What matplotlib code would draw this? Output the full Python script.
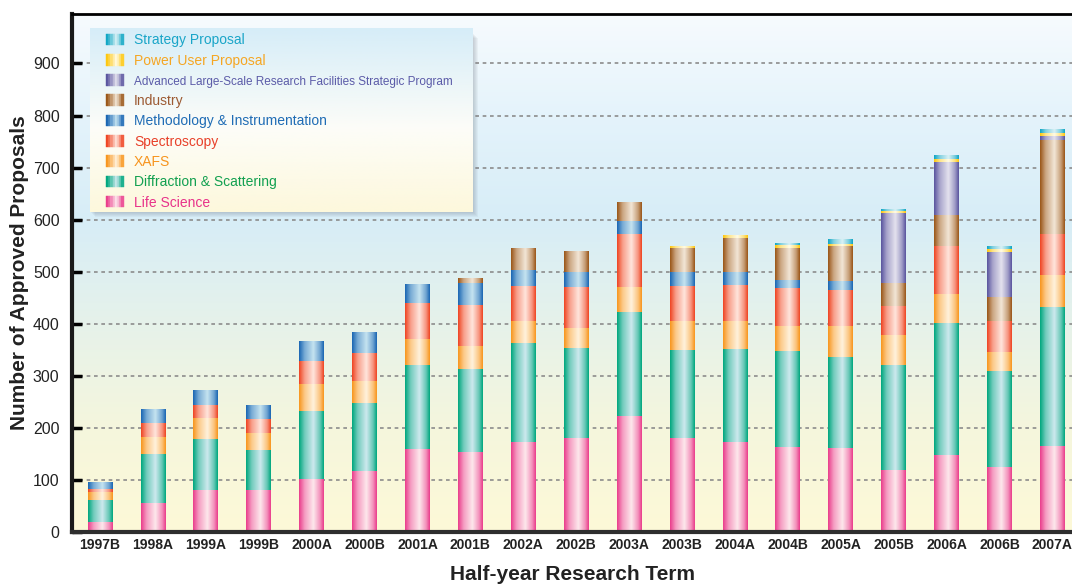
import numpy as np
import matplotlib
matplotlib.use("Agg")
import matplotlib.pyplot as plt
from matplotlib.colors import LinearSegmentedColormap, to_rgb
from matplotlib.patches import Patch, Rectangle
from matplotlib.legend_handler import HandlerTuple

plt.rcParams['font.family'] = ['Liberation Sans', 'DejaVu Sans']

terms = ['1997B', '1998A', '1999A', '1999B', '2000A', '2000B', '2001A', '2001B',
         '2002A', '2002B', '2003A', '2003B', '2004A', '2004B', '2005A', '2005B',
         '2006A', '2006B', '2007A']

life = [20, 55, 80, 80, 101, 117, 160, 153, 172, 180, 222, 180, 172, 164, 162, 120, 147, 125, 166]
diffraction = [41, 94, 98, 77, 131, 130, 160, 161, 192, 173, 200, 169, 179, 184, 175, 201, 255, 184, 267]
xafs = [15, 33, 41, 33, 52, 44, 50, 44, 42, 38, 48, 57, 54, 48, 59, 58, 56, 36, 61]
spectroscopy = [6, 27, 25, 27, 44, 52, 69, 79, 66, 79, 102, 66, 69, 73, 69, 56, 92, 60, 79]
methodology = [12, 25, 28, 25, 37, 39, 35, 42, 32, 29, 25, 28, 25, 15, 17, 0, 0, 0, 0]
industry = [0, 0, 0, 0, 0, 0, 0, 8, 41, 40, 36, 45, 66, 62, 68, 43, 59, 46, 180]
advanced = [0, 0, 0, 0, 0, 0, 0, 0, 0, 0, 0, 0, 0, 0, 0, 135, 102, 86, 8]
power_user = [0, 0, 0, 0, 0, 0, 0, 0, 0, 0, 0, 3, 5, 5, 3, 4, 6, 6, 6]
strategy = [0, 0, 0, 0, 0, 0, 0, 0, 0, 0, 0, 0, 0, 2, 8, 3, 6, 4, 6]

# (label, values, edge colour, light centre colour, text colour) bottom -> top
series = [
    ('Life Science', life, '#ea3d8c', '#fde8ec', '#e8338a'),
    ('Diffraction & Scattering', diffraction, '#00a77e', '#cde9ee', '#12a050'),
    ('XAFS', xafs, '#f8961e', '#fff2dc', '#f7941d'),
    ('Spectroscopy', spectroscopy, '#ef4523', '#ffe5dc', '#e8402a'),
    ('Methodology & Instrumentation', methodology, '#1a66b3', '#c5e3f0', '#1f6cb5'),
    ('Industry', industry, '#9a5618', '#f2e6d6', '#9c5a32'),
    ('Advanced Large-Scale Research Facilities Strategic Program', advanced, '#5a559f', '#e4e2ee', '#5b5ba8'),
    ('Power User Proposal', power_user, '#fdc70f', '#fffbe6', '#f5a623'),
    ('Strategy Proposal', strategy, '#10a6c4', '#d9f1f5', '#1aa5c8'),
]


def mix(c1, c2, t):
    a, b = np.array(to_rgb(c1)), np.array(to_rgb(c2))
    return tuple(a + (b - a) * t)


def bar_cmap(edge, light):
    return LinearSegmentedColormap.from_list(
        'g', [(0, edge), (0.22, mix(edge, light, 0.55)), (0.58, light),
              (0.85, mix(edge, light, 0.5)), (1, edge)])


fig = plt.figure(figsize=(10.72, 5.84), dpi=100)
ax = fig.add_axes([0.0672, 0.089, 0.9328, 0.887])

# background gradient
bg_cmap = LinearSegmentedColormap.from_list(
    'bg', [(0, '#fdf9d7'), (0.2, '#f5f6dd'), (0.4, '#e6f2ea'), (0.6, '#d7edf7'),
           (0.8, '#e4f3fb'), (1, '#f7fbfe')])
ax.imshow(np.linspace(0, 1, 256).reshape(-1, 1), extent=(0, 1, 0, 1), origin='lower',
          transform=ax.transAxes, cmap=bg_cmap, aspect='auto', zorder=0)

x = np.arange(len(terms))
grad = np.linspace(0, 1, 64).reshape(1, -1)
bottom = np.zeros(len(terms))
for label, vals, edge, light, tc in series:
    vals = np.array(vals, dtype=float)
    bars = ax.bar(x, vals, 0.47, bottom=bottom, color=edge, linewidth=0, zorder=2)
    cm = bar_cmap(edge, light)
    for b in bars:
        if b.get_height() <= 0:
            continue
        x0, y0 = b.get_x(), b.get_y()
        ax.imshow(grad, extent=(x0, x0 + b.get_width(), y0, y0 + b.get_height()),
                  cmap=cm, aspect='auto', zorder=2.1, interpolation='bilinear')
    bottom += vals

ax.set_yticks(range(0, 1000, 100))
ax.set_xticks(x)
ax.set_xticklabels(terms, fontweight='bold', fontsize=10, color='#222222')
ax.tick_params(axis='x', length=0, pad=4)
ax.tick_params(axis='y', direction='in', length=7, width=2.5, labelsize=11.5,
               pad=9, colors='black', labelcolor='#222222')
ax.grid(axis='y', color='#8c8c8c', linestyle=(0, (2.2, 2.2)), linewidth=1.2)
ax.set_axisbelow(True)

for s in ['left', 'bottom']:
    ax.spines[s].set_linewidth(3)
ax.spines['left'].set_color('#1a1a1a')
ax.spines['bottom'].set_color('#2e2e2e')
ax.spines['top'].set_linewidth(2)
ax.spines['right'].set_visible(False)

ax.set_ylabel('Number of Approved Proposals', fontsize=15, fontweight='bold',
              color='#222222', labelpad=3)
ax.set_xlabel('Half-year Research Term', fontsize=15, fontweight='bold',
              color='#222222', labelpad=10)

# legend box with soft shadow and gradient fill
bx0, bx1, by0, by1 = 0.018, 0.401, 0.618, 0.973
for i in range(5):
    ax.add_patch(Rectangle((bx0 + 0.001 * (i + 1), by0 - 0.0019 * (i + 1)),
                           bx1 - bx0, by1 - by0 - 0.01, transform=ax.transAxes,
                           facecolor='#5a6470', alpha=0.06, linewidth=0, zorder=3.5))
leg_cmap = LinearSegmentedColormap.from_list(
    'lg', [(0, '#fdf8dc'), (0.45, '#fdfdf8'), (1, '#d6edf8')])
ax.imshow(np.linspace(0, 1, 256).reshape(-1, 1), extent=(bx0, bx1, by0, by1),
          origin='lower', transform=ax.transAxes, cmap=leg_cmap, aspect='auto', zorder=4)
ax.set_xlim(-0.53, 18.37)
ax.set_ylim(0, 995)

handles, labels = [], []
for label, vals, edge, light, tc in series[::-1]:
    cols = [mix(edge, light, t) for t in [0, 0.2, 0.45, 0.7, 0.95, 0.8, 0.5, 0.15]]
    handles.append(tuple(Patch(facecolor=c, edgecolor=c, linewidth=0.3) for c in cols))
    labels.append(label)

leg = ax.legend(handles, labels, loc='upper left', bbox_to_anchor=(0.023, 0.984),
                frameon=False, fontsize=10, handlelength=1.25, handleheight=0.9,
                labelspacing=0.455, handletextpad=0.75, borderpad=0.3,
                handler_map={tuple: HandlerTuple(ndivide=None, pad=0)})
leg.set_zorder(5)
for t, s in zip(leg.get_texts(), series[::-1]):
    t.set_color(s[4])
    if s[0].startswith('Advanced'):
        t.set_fontsize(8.5)

fig.savefig('out.png', dpi=100)
